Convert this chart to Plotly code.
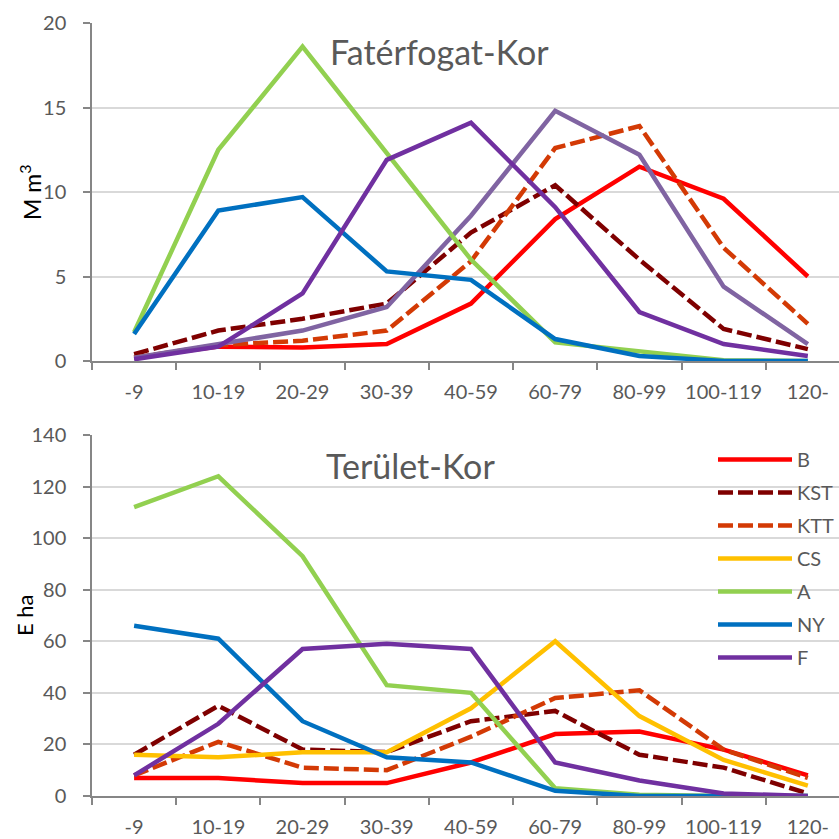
import plotly.graph_objects as go
from plotly.subplots import make_subplots

korok = ["-9", "10-19", "20-29", "30-39", "40-59", "60-79", "80-99", "100-119", "120-"]

# Fatérfogat (M m3)
vol_B = [0.2, 0.85, 0.8, 1.0, 3.4, 8.4, 11.5, 9.6, 5.0]
vol_KST = [0.4, 1.8, 2.5, 3.4, 7.6, 10.4, 6.0, 1.9, 0.7]
vol_KTT = [0.2, 0.95, 1.2, 1.8, 5.9, 12.6, 13.9, 6.7, 2.2]
vol_CS = [0.2, 1.0, 1.8, 3.2, 8.6, 14.8, 12.2, 4.4, 1.0]
vol_A = [1.7, 12.5, 18.6, 12.3, 6.0, 1.1, 0.6, 0.05, 0.0]
vol_NY = [1.6, 8.9, 9.7, 5.3, 4.8, 1.3, 0.3, 0.0, 0.0]
vol_F = [0.1, 0.85, 4.0, 11.9, 14.1, 9.1, 2.9, 1.0, 0.3]

# Terület (E ha)
ter_B = [7, 7, 5, 5, 13, 24, 25, 18, 8]
ter_KST = [16, 35, 18, 17, 29, 33, 16, 11, 1]
ter_KTT = [8, 21, 11, 10, 23, 38, 41, 18, 7]
ter_CS = [16, 15, 17, 17, 34, 60, 31, 14, 4]
ter_A = [112, 124, 93, 43, 40, 3, 0.5, 0, 0]
ter_NY = [66, 61, 29, 15, 13, 2, 0, 0, 0]
ter_F = [8, 28, 57, 59, 57, 13, 6, 1, 0]

FONT = "Lato, Open Sans, sans-serif"
DASH = "15px,5px"
LW = 4.5

STYLES = {
    "B": dict(color="#FF0000", dash="solid"),
    "KST": dict(color="#7F0000", dash=DASH),
    "KTT": dict(color="#D33A05", dash=DASH),
    "CS": dict(color="#FFC000", dash="solid"),
    "A": dict(color="#92D050", dash="solid"),
    "NY": dict(color="#0070C0", dash="solid"),
    "F": dict(color="#7030A0", dash="solid"),
}

fig = make_subplots(rows=2, cols=1)

top = [("B", vol_B), ("KST", vol_KST), ("KTT", vol_KTT), ("CS", vol_CS),
       ("A", vol_A), ("NY", vol_NY), ("F", vol_F)]
for name, vals in top:
    st = dict(STYLES[name])
    if name == "CS":
        st["color"] = "#8064A2"
    fig.add_trace(go.Scatter(
        x=korok, y=vals, mode="lines", name=name, showlegend=False,
        line=dict(color=st["color"], width=LW, dash=st["dash"]),
    ), row=1, col=1)

bottom = [("B", ter_B), ("KST", ter_KST), ("KTT", ter_KTT), ("CS", ter_CS),
          ("A", ter_A), ("NY", ter_NY), ("F", ter_F)]
for name, vals in bottom:
    st = STYLES[name]
    fig.add_trace(go.Scatter(
        x=korok, y=vals, mode="lines", name=name, legendgroup=name,
        line=dict(color=st["color"], width=LW, dash=st["dash"]),
    ), row=2, col=1)

xax = dict(
    type="category", range=[-0.5, 8.37], tickson="boundaries",
    ticks="outside", ticklen=7, tickcolor="#868686", tickwidth=1.5,
    showline=True, linecolor="#868686", linewidth=1.5,
    showgrid=False, domain=[92 / 839, 1.0], automargin=False,
    ticklabelstandoff=12, tickangle=0,
    tickfont=dict(family=FONT, size=20, color="#595959"),
)
yax = dict(
    ticks="outside", ticklen=7, tickcolor="#868686", tickwidth=1.5,
    showline=True, linecolor="#868686", linewidth=1.5, automargin=False,
    showgrid=True, gridcolor="#D9D9D9", gridwidth=1.5, zeroline=False,
    ticklabelstandoff=13,
    tickfont=dict(family=FONT, size=20, color="#595959"),
)

fig.update_layout(
    width=839, height=839,
    paper_bgcolor="white", plot_bgcolor="white",
    margin=dict(l=0, r=0, t=0, b=0, autoexpand=False),
    font=dict(family=FONT, color="#595959"),
    xaxis=dict(**xax, anchor="y"),
    xaxis2=dict(**xax, anchor="y2"),
    yaxis=dict(**yax, range=[0, 20], dtick=5,
               domain=[(839 - 361) / 839, (839 - 23) / 839]),
    yaxis2=dict(**yax, range=[0, 140], dtick=20,
                domain=[(839 - 796) / 839, (839 - 435) / 839]),
    legend=dict(
        x=713 / 839, y=(839 - 440) / 839, xanchor="left", yanchor="top",
        bgcolor="rgba(0,0,0,0)", tracegroupgap=4, itemwidth=74,
        font=dict(family=FONT, size=20, color="#595959"),
    ),
    showlegend=True,
)

fig.add_annotation(text="Fatérfogat-Kor", xref="paper", yref="paper",
                   x=439 / 839, y=(839 - 52) / 839, showarrow=False,
                   xanchor="center", yanchor="middle",
                   font=dict(family=FONT, size=34, color="#595959"))
fig.add_annotation(text="Terület-Kor", xref="paper", yref="paper",
                   x=410 / 839, y=(839 - 465) / 839, showarrow=False,
                   xanchor="center", yanchor="middle",
                   font=dict(family=FONT, size=34, color="#595959"))
fig.add_annotation(text="M m<sup>3</sup>", xref="paper", yref="paper",
                   x=30 / 839, y=(839 - 192) / 839, showarrow=False, textangle=-90,
                   xanchor="center", yanchor="middle",
                   font=dict(family=FONT, size=23, color="#000000"))
fig.add_annotation(text="E ha", xref="paper", yref="paper",
                   x=24 / 839, y=(839 - 615) / 839, showarrow=False, textangle=-90,
                   xanchor="center", yanchor="middle",
                   font=dict(family=FONT, size=22, color="#000000"))

fig.write_html("out.html", config={"displayModeBar": False},
               post_script="document.body.style.margin='0px';")
